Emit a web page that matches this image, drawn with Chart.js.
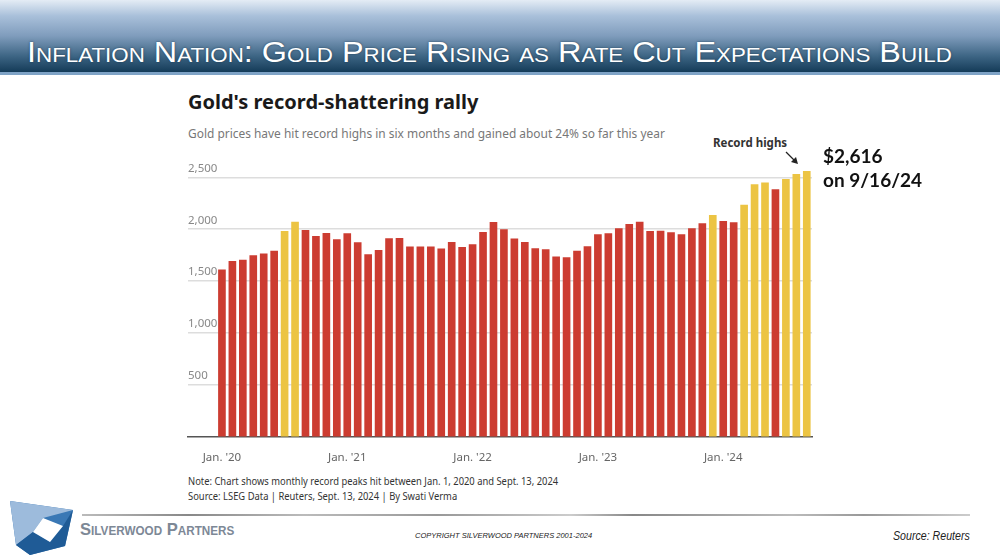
<!DOCTYPE html>
<html>
<head>
<meta charset="utf-8">
<script src="https://cdn.jsdelivr.net/npm/chart.js@4"></script>
<style>
  html, body { margin: 0; padding: 0; background: #fff; }
  #page { position: relative; width: 1000px; height: 560px; overflow: hidden; font-family: "Noto Sans", sans-serif; }
  #banner { position: absolute; left: 0; top: 0; width: 1000px; height: 72px;
    background: linear-gradient(#e4ecf5 0%, #a9c0da 22%, #7f9cbc 50%, #3d6584 78%, #143b58 100%); }
  #bannerLine { position: absolute; left: 0; top: 72px; width: 1000px; height: 3px; background: #7fa3c6; }
  #headTitle { position: absolute; left: 27px; top: 36px; color: #fff; white-space: nowrap;
    font-family: "Liberation Sans", Arial, sans-serif; font-size: 29px; font-variant: small-caps;
    transform-origin: 0 0; text-shadow: 0 0 2px #1d3c55; }
  #chartTitle { position: absolute; left: 188px; top: 88px; font-family: "Noto Sans", sans-serif;
    font-weight: bold; font-size: 20px; color: #1a1a1a; white-space: nowrap; }
  #chartSub { position: absolute; left: 188px; top: 124px; font-family: "Noto Sans", sans-serif;
    font-size: 13px; color: #777; white-space: nowrap; transform-origin: 0 0; }
  #chartBox { position: absolute; left: 180px; top: 160px; width: 640px; height: 310px; }
  #recLabel { position: absolute; left: 713px; top: 135px; font-weight: bold; font-size: 11.5px; color: #333; white-space: nowrap; }
  #bigNote { position: absolute; left: 823px; top: 144px; font-family: Lato, sans-serif; font-weight: bold;
    font-size: 19px; line-height: 24px; color: #111; white-space: nowrap; }
  .note { position: absolute; left: 188px; font-size: 10.5px; color: #333; white-space: nowrap; transform-origin: 0 0; }
  #footLine { position: absolute; left: 82px; top: 514px; width: 888px; height: 2px;
    background: linear-gradient(90deg, #bbb 0%, #888 12%, #bbb 25%, #999 40%, #ccc 55%, #888 62%, #bbb 80%, #999 88%, #ccc 100%); }
  #firm { position: absolute; left: 80px; top: 520px; font-family: "Liberation Sans", sans-serif; font-weight: bold;
    font-size: 17px; font-variant: small-caps; color: #7d8896; white-space: nowrap; transform-origin: 0 0; }
  #copy { position: absolute; left: 415px; top: 531px; font-family: "Liberation Sans Narrow", "Liberation Sans", sans-serif;
    font-style: italic; font-size: 7.5px; color: #222; white-space: nowrap; }
  #src { position: absolute; left: 893px; top: 529px; font-family: "Liberation Sans Narrow", "Liberation Sans", sans-serif;
    font-style: italic; font-size: 12px; color: #222; white-space: nowrap; transform-origin: 0 0; }
</style>
</head>
<body>
<div id="page">
  <div id="banner"></div>
  <div id="bannerLine"></div>
  <div id="headTitle">Inflation Nation: Gold Price Rising as Rate Cut Expectations Build</div>

  <div id="chartTitle">Gold's record-shattering rally</div>
  <div id="chartSub">Gold prices have hit record highs in six months and gained about 24% so far this year</div>

  <div id="chartBox"><canvas id="goldChart" width="640" height="310"></canvas></div>

  <div id="recLabel">Record highs</div>
  <svg style="position:absolute;left:780px;top:146px" width="24" height="22">
    <line x1="6" y1="6" x2="15" y2="15" stroke="#222" stroke-width="1.2"/>
    <polygon points="18,18 11,16 16,11" fill="#222"/>
  </svg>
  <div id="bigNote">$2,616<br>on 9/16/24</div>

  <div class="note" id="note1" style="top:474px">Note: Chart shows monthly record peaks hit between Jan. 1, 2020 and Sept. 13, 2024</div>
  <div class="note" id="note2" style="top:489px">Source: LSEG Data | Reuters, Sept. 13, 2024 | By Swati Verma</div>

  <div id="footLine"></div>
  <svg style="position:absolute;left:0;top:495px" width="80" height="65">
    <polygon points="10,6 73,15 65,51 30,60 16,50" fill="#3a78b5"/>
    <polygon points="10,6 73,15 43,23 33,37 16,50" fill="#9dbbdc"/>
    <polygon points="65,51 30,60 16,50 33,37 50,47 63,31 73,15" fill="#1f5b96"/>
    <polygon points="43,23 63,31 50,47 33,37" fill="#fff"/>
  </svg>
  <div id="firm">Silverwood Partners</div>
  <div id="copy">COPYRIGHT SILVERWOOD PARTNERS 2001-2024</div>
  <div id="src">Source: Reuters</div>
</div>

<script>
// Monthly record peaks, Jan 2020 - Sep 2024 (USD/oz)
const months = [
    '2020-01','2020-02','2020-03','2020-04','2020-05','2020-06','2020-07','2020-08','2020-09','2020-10','2020-11','2020-12',
    '2021-01','2021-02','2021-03','2021-04','2021-05','2021-06','2021-07','2021-08','2021-09','2021-10','2021-11','2021-12',
    '2022-01','2022-02','2022-03','2022-04','2022-05','2022-06','2022-07','2022-08','2022-09','2022-10','2022-11','2022-12',
    '2023-01','2023-02','2023-03','2023-04','2023-05','2023-06','2023-07','2023-08','2023-09','2023-10','2023-11','2023-12',
    '2024-01','2024-02','2024-03','2024-04','2024-05','2024-06','2024-07','2024-08','2024-09'
];
const peaks = [
    1610, 1690, 1702, 1747, 1763, 1789, 1980, 2069, 1990, 1932, 1961, 1900,
    1958, 1872, 1757, 1798, 1910, 1913, 1830, 1830, 1830, 1811, 1875, 1826,
    1852, 1970, 2066, 1996, 1907, 1875, 1814, 1805, 1734, 1728, 1789, 1833,
    1948, 1958, 2006, 2047, 2069, 1980, 1983, 1967, 1948, 2006, 2054, 2134,
    2076, 2063, 2232, 2430, 2446, 2382, 2481, 2529, 2558
];
// months where a new all-time high was set
const recordMonths = ['2020-07','2020-08','2023-12','2024-03','2024-04','2024-05','2024-07','2024-08','2024-09'];
const xTickMonths = ['2020-01','2021-01','2022-01','2023-01','2024-01'];
const xTickLabels = ["Jan. '20", "Jan. '21", "Jan. '22", "Jan. '23", "Jan. '24"];
const yTicks = [500, 1000, 1500, 2000, 2500];

const RED = '#cc3c31';
const GOLD = '#ecc443';

// squeeze a text block to a target width
function fitWidth(id, w) {
    const el = document.getElementById(id);
    el.style.transform = 'scaleX(' + (w / el.scrollWidth) + ')';
}
fitWidth('headTitle', 925);
fitWidth('chartSub', 477);
fitWidth('note1', 370);
document.getElementById('note2').style.transform = document.getElementById('note1').style.transform;
fitWidth('firm', 154);
fitWidth('src', 77);

const tickIdx = xTickMonths.map(m => months.indexOf(m));

new Chart(document.getElementById('goldChart'), {
    type: 'bar',
    data: {
        datasets: [{
            data: peaks.map((v, i) => ({ x: i, y: v })),
            backgroundColor: months.map(m => recordMonths.includes(m) ? GOLD : RED),
            barThickness: 7,
            borderWidth: 0
        }]
    },
    options: {
        responsive: false,
        animation: false,
        layout: { padding: { left: 8, right: 8, top: 5, bottom: 3 } },
        plugins: {
            legend: { display: false },
            tooltip: { enabled: false }
        },
        scales: {
            x: {
                type: 'linear',
                offset: false,
                min: -3.25,
                max: 56.5,
                grid: { display: false, offset: false },
                border: { display: true, color: '#555', width: 1.5 },
                afterFit: scale => { scale.height = 30; },
                afterBuildTicks: scale => { scale.ticks = tickIdx.map(v => ({ value: v })); },
                ticks: {
                    autoSkip: false,
                    maxRotation: 0,
                    padding: 6,
                    color: '#666',
                    font: { family: 'Noto Sans', size: 11.5 },
                    callback: v => xTickLabels[tickIdx.indexOf(v)]
                }
            },
            y: {
                min: 0,
                max: 2600,
                afterFit: scale => { scale.width = 0; },
                afterBuildTicks: scale => { scale.ticks = [0].concat(yTicks).map(v => ({ value: v })); },
                grid: {
                    drawTicks: false,
                    lineWidth: 1.5,
                    color: c => c.tick && c.tick.value === 0 ? 'rgba(0,0,0,0)' : '#dddddd'
                },
                border: { display: false },
                ticks: {
                    mirror: true,
                    padding: 0,
                    labelOffset: -9,
                    color: '#888',
                    font: { family: 'Noto Sans', size: 11.5 },
                    callback: v => v === 0 ? '' : v.toLocaleString('en-US')
                }
            }
        }
    }
});
</script>
</body>
</html>
